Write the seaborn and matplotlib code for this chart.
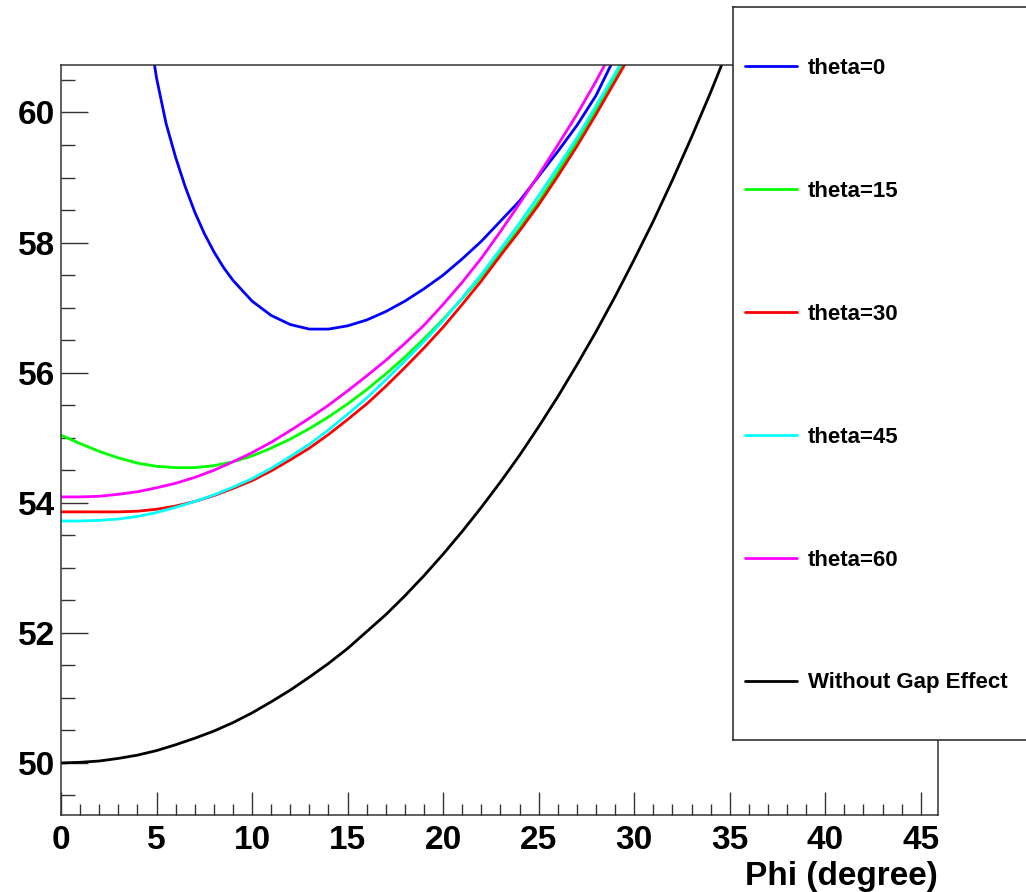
import matplotlib
matplotlib.use("Agg")
import matplotlib.pyplot as plt
from matplotlib.lines import Line2D
from matplotlib.ticker import MultipleLocator
import pandas as pd
import seaborn as sns

# ---------------------------------------------------------------- data
phi = list(range(0, 31))

theta_15 = [55.04, 54.91, 54.79, 54.69, 54.61, 54.56, 54.54, 54.54, 54.57, 54.63,
            54.72, 54.84, 54.98, 55.14, 55.32, 55.52, 55.74, 55.98, 56.24, 56.52,
            56.82, 57.14, 57.48, 57.84, 58.22, 58.63, 59.08, 59.55, 60.04, 60.56, 61.10]

theta_30 = [53.86, 53.86, 53.86, 53.86, 53.87, 53.90, 53.95, 54.02, 54.11, 54.22,
            54.34, 54.49, 54.66, 54.84, 55.05, 55.28, 55.52, 55.79, 56.08, 56.38,
            56.70, 57.05, 57.41, 57.80, 58.18, 58.58, 59.02, 59.48, 59.97, 60.48, 60.99]

theta_45 = [53.72, 53.72, 53.73, 53.75, 53.79, 53.85, 53.93, 54.02, 54.12, 54.24,
            54.37, 54.53, 54.71, 54.90, 55.12, 55.36, 55.61, 55.89, 56.18, 56.48,
            56.80, 57.15, 57.51, 57.90, 58.30, 58.72, 59.16, 59.61, 60.10, 60.60, 61.12]

theta_60 = [54.09, 54.09, 54.10, 54.13, 54.17, 54.23, 54.30, 54.39, 54.50, 54.63,
            54.77, 54.93, 55.11, 55.30, 55.50, 55.72, 55.95, 56.19, 56.45, 56.73,
            57.05, 57.39, 57.76, 58.17, 58.60, 59.04, 59.50, 59.97, 60.48, 61.03, 61.60]

phi_theta_0 = [4.5, 5.0, 5.5, 6.0, 6.5, 7.0, 7.5, 8.0, 8.5, 9.0, 10, 11, 12, 13, 14,
               15, 16, 17, 18, 19, 20, 21, 22, 23, 24, 25, 26, 27, 28, 29]
theta_0 = [61.48, 60.53, 59.83, 59.31, 58.86, 58.47, 58.14, 57.86, 57.62, 57.42,
           57.10, 56.88, 56.74, 56.67, 56.67, 56.72, 56.81, 56.94, 57.10, 57.29,
           57.50, 57.75, 58.02, 58.33, 58.64, 59.02, 59.40, 59.80, 60.26, 60.86]

phi_no_gap = list(range(0, 36))
no_gap = [50.00, 50.01, 50.03, 50.07, 50.12, 50.19, 50.28, 50.38, 50.49, 50.62,
          50.77, 50.94, 51.12, 51.32, 51.53, 51.76, 52.02, 52.28, 52.57, 52.88,
          53.21, 53.56, 53.93, 54.32, 54.73, 55.17, 55.63, 56.12, 56.63, 57.17,
          57.74, 58.33, 58.96, 59.62, 60.31, 61.04]

labels = ["theta=0", "theta=15", "theta=30", "theta=45", "theta=60",
          "Without Gap Effect"]
colors = ["#0000ff", "#00ff00", "#ff0000", "#00ffff", "#ff00ff", "#000000"]

series = [
    (phi_theta_0, theta_0),
    (phi, theta_15),
    (phi, theta_30),
    (phi, theta_45),
    (phi, theta_60),
    (phi_no_gap, no_gap),
]

frames = []
for name, (xs, ys) in zip(labels, series):
    frames.append(pd.DataFrame({"phi": xs, "value": ys, "curve": name}))
df = pd.concat(frames, ignore_index=True)

# ---------------------------------------------------------------- style
sns.set_style("white")
plt.rcParams["font.family"] = ["Liberation Sans", "DejaVu Sans"]
plt.rcParams["font.weight"] = "bold"
plt.rcParams["text.color"] = "black"
plt.rcParams["axes.labelcolor"] = "black"
plt.rcParams["xtick.color"] = "black"
plt.rcParams["ytick.color"] = "black"

W, H = 1026, 892
fig = plt.figure(figsize=(W / 100, H / 100), dpi=100)
fig.patch.set_facecolor("white")

ax = fig.add_axes([61 / W, (H - 815) / H, 877 / W, 750 / H])

sns.lineplot(data=df, x="phi", y="value", hue="curve", hue_order=labels,
             palette=dict(zip(labels, colors)), estimator=None, linewidth=2.0,
             legend=False, ax=ax)

ax.set_xlim(0, 45.9)
ax.set_ylim(49.2, 60.73)
ax.xaxis.set_major_locator(MultipleLocator(5))
ax.xaxis.set_minor_locator(MultipleLocator(1))
ax.yaxis.set_major_locator(MultipleLocator(2))
ax.yaxis.set_minor_locator(MultipleLocator(0.5))

frame_col = "#333333"
for sp in ax.spines.values():
    sp.set_color(frame_col)
    sp.set_linewidth(1.1)

ax.tick_params(axis="both", which="both", direction="in", color=frame_col,
               labelcolor="black", width=1.0, left=True, bottom=True,
               top=False, right=False, labelsize=24)
ax.tick_params(axis="x", which="major", length=16.5, pad=7)
ax.tick_params(axis="x", which="minor", length=8)
ax.tick_params(axis="y", which="major", length=19.5, pad=4)
ax.tick_params(axis="y", which="minor", length=10)
for lab in ax.get_xticklabels() + ax.get_yticklabels():
    lab.set_fontweight("bold")

ax.set_xlabel("Phi (degree)", loc="right", fontsize=24, fontweight="bold",
              labelpad=4, color="black")
ax.set_ylabel("")

# ---------------------------------------------------------------- legend box
lax = fig.add_axes([733 / W, (H - 740) / H, (1032 - 733) / W, (740 - 7) / H])
lax.set_facecolor("white")
lax.set_xticks([])
lax.set_yticks([])
for sp in lax.spines.values():
    sp.set_color("#222222")
    sp.set_linewidth(1.1)

handles = [Line2D([], [], color=c, lw=2.0) for c in colors]
lax.legend(handles, labels, loc="upper left",
           bbox_to_anchor=((745 - 733) / (1032 - 733), 1 - (58 - 7) / (740 - 7)),
           frameon=False, prop={"size": 16, "weight": "bold"},
           handlelength=2.34, handletextpad=0.5, labelspacing=4.585,
           borderpad=0, borderaxespad=0)

fig.savefig("out.png", dpi=100, facecolor="white")
